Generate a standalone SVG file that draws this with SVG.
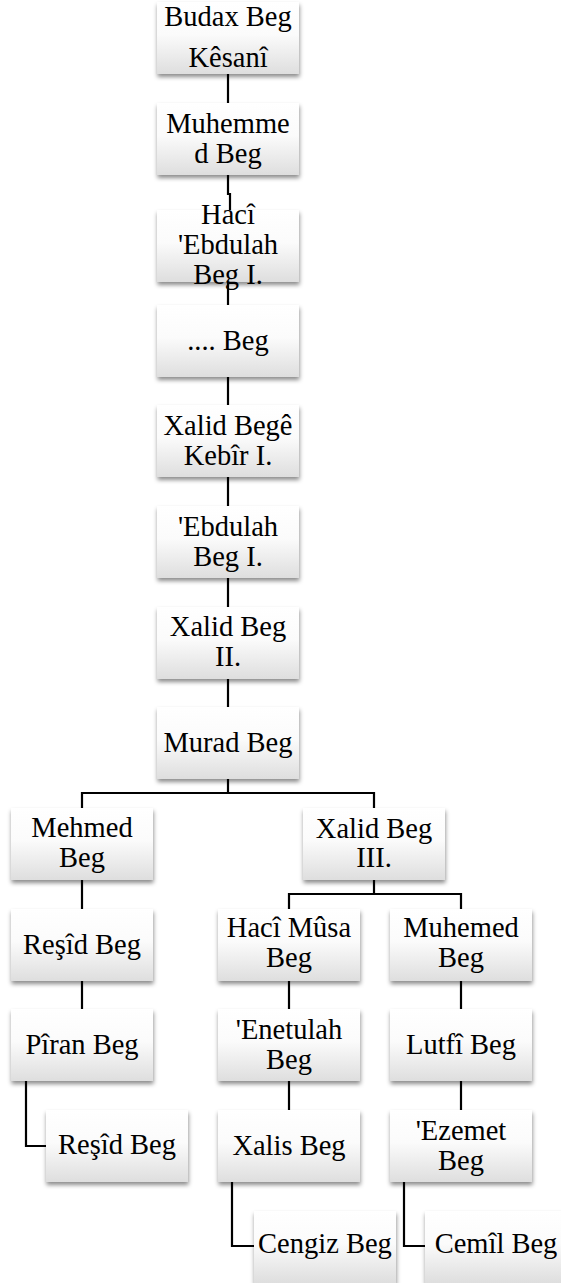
<svg xmlns="http://www.w3.org/2000/svg" width="561" height="1283" viewBox="0 0 561 1283" font-family="'Liberation Serif', 'Times New Roman', Times, serif" font-size="28.5">
<defs>
<linearGradient id="g" x1="0" y1="0" x2="0" y2="1">
<stop offset="0" stop-color="#ffffff"/>
<stop offset="0.45" stop-color="#fbfbfb"/>
<stop offset="1" stop-color="#dedede"/>
</linearGradient>
<filter id="sh" x="-10%" y="-10%" width="120%" height="130%">
<feDropShadow dx="0.5" dy="3" stdDeviation="2.2" flood-color="#000" flood-opacity="0.45"/>
</filter>
</defs>
<style>
.n rect{fill:url(#g);filter:url(#sh)}
.n text{font-family:'Liberation Serif','Times New Roman',Times,serif;font-size:28.5px;fill:#000;text-anchor:middle}
.c path{fill:none;stroke:#000;stroke-width:2.2}
</style>
<rect x="0" y="0" width="561" height="1283" fill="#fff"/>
<g class="c" id="connectors">
<path d="M228,74 V103"/>
<path d="M228,174 V194 H230 V210"/>
<path d="M228,282 V305"/>
<path d="M228,376 V405"/>
<path d="M228,477 V506"/>
<path d="M228,578 V607"/>
<path d="M228,679 V707"/>
<path d="M228,779 V793"/>
<path d="M82,808 V793 H374 V808"/>
<path d="M82,880 V909"/>
<path d="M82,981 V1009"/>
<path d="M26,1081 V1146 H46"/>
<path d="M374,880 V894"/>
<path d="M289,909 V894 H461 V909"/>
<path d="M289,981 V1009"/>
<path d="M461,981 V1009"/>
<path d="M289,1081 V1110"/>
<path d="M461,1081 V1110"/>
<path d="M232,1182 V1246 H254"/>
<path d="M404,1182 V1246 H425"/>
</g>
<g class="n" id="n1"><rect x="157" y="2" width="142" height="72"/><text x="228" y="26">Budax Beg</text><text x="228" y="67">Kêsanî</text></g>
<g class="n" id="n2"><rect x="157" y="103" width="142" height="72"/><text x="228" y="133">Muhemme</text><text x="228" y="163">d Beg</text></g>
<g class="n" id="n3"><rect x="157" y="210" width="142" height="72"/><text x="228" y="224">Hacî</text><text x="228" y="254">'Ebdulah</text><text x="228" y="284">Beg I.</text></g>
<g class="n" id="n4"><rect x="157" y="305" width="142" height="72"/><text x="228" y="350">.... Beg</text></g>
<g class="n" id="n5"><rect x="157" y="405" width="142" height="72"/><text x="228" y="435">Xalid Begê</text><text x="228" y="465">Kebîr I.</text></g>
<g class="n" id="n6"><rect x="157" y="506" width="142" height="72"/><text x="228" y="536">'Ebdulah</text><text x="228" y="566">Beg I.</text></g>
<g class="n" id="n7"><rect x="157" y="607" width="142" height="72"/><text x="228" y="636">Xalid Beg</text><text x="228" y="666">II.</text></g>
<g class="n" id="n8"><rect x="157" y="707" width="142" height="72"/><text x="228" y="752">Murad Beg</text></g>
<g class="n" id="n9"><rect x="11" y="808" width="142" height="72"/><text x="82" y="837">Mehmed</text><text x="82" y="867">Beg</text></g>
<g class="n" id="n10"><rect x="303" y="808" width="142" height="72"/><text x="374" y="838">Xalid Beg</text><text x="374" y="867">III.</text></g>
<g class="n" id="n11"><rect x="11" y="909" width="142" height="72"/><text x="82" y="954">Reşîd Beg</text></g>
<g class="n" id="n12"><rect x="218" y="909" width="142" height="72"/><text x="289" y="937">Hacî Mûsa</text><text x="289" y="967">Beg</text></g>
<g class="n" id="n13"><rect x="390" y="909" width="142" height="72"/><text x="461" y="937">Muhemed</text><text x="461" y="967">Beg</text></g>
<g class="n" id="n14"><rect x="11" y="1009" width="142" height="72"/><text x="82" y="1054">Pîran Beg</text></g>
<g class="n" id="n15"><rect x="218" y="1009" width="142" height="72"/><text x="289" y="1039">'Enetulah</text><text x="289" y="1069">Beg</text></g>
<g class="n" id="n16"><rect x="390" y="1009" width="142" height="72"/><text x="461" y="1054">Lutfî Beg</text></g>
<g class="n" id="n17"><rect x="46" y="1110" width="142" height="72"/><text x="117" y="1154">Reşîd Beg</text></g>
<g class="n" id="n18"><rect x="218" y="1110" width="142" height="72"/><text x="289" y="1155">Xalis Beg</text></g>
<g class="n" id="n19"><rect x="390" y="1110" width="142" height="72"/><text x="461" y="1140">'Ezemet</text><text x="461" y="1170">Beg</text></g>
<g class="n" id="n20"><rect x="254" y="1211" width="142" height="72"/><text x="325" y="1253">Cengiz Beg</text></g>
<g class="n" id="n21"><rect x="425" y="1211" width="142" height="72"/><text x="496" y="1253">Cemîl Beg</text></g>
</svg>
